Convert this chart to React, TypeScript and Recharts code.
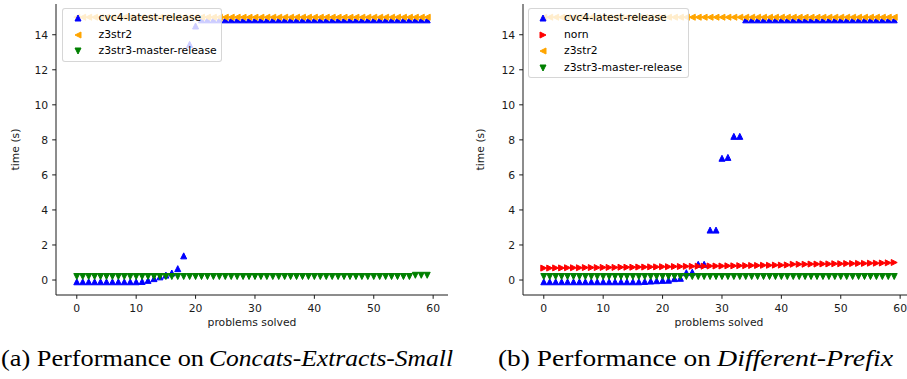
import React from "react";
import { ScatterChart, Scatter, XAxis, YAxis } from "recharts";

// problems solved (x position of every point)
const solved = [
  0, 1, 2, 3, 4, 5, 6, 7, 8, 9, 10, 11, 12, 13, 14, 15, 16, 17, 18, 19,
  20, 21, 22, 23, 24, 25, 26, 27, 28, 29, 30, 31, 32, 33, 34, 35, 36, 37, 38, 39,
  40, 41, 42, 43, 44, 45, 46, 47, 48, 49, 50, 51, 52, 53, 54, 55, 56, 57, 58, 59,
];

// (a) Concats-Extracts-Small, time in seconds
const cvc4Small = [
  -0.1, -0.1, -0.1, -0.1, -0.1, -0.1, -0.1, -0.1, -0.1, -0.1, -0.1, -0.08, -0.02, 0.08, 0.18, 0.28, 0.4, 0.65, 1.38, 13.45,
  14.5, 14.85, 14.85, 14.85, 14.85, 14.85, 14.85, 14.85, 14.85, 14.85, 14.85, 14.85, 14.85, 14.85, 14.85, 14.85, 14.85, 14.85, 14.85, 14.85,
  14.85, 14.85, 14.85, 14.85, 14.85, 14.85, 14.85, 14.85, 14.85, 14.85, 14.85, 14.85, 14.85, 14.85, 14.85, 14.85, 14.85, 14.85, 14.85, 14.85,
];
const z3str2Small = [
  15, 15, 15, 15, 15, 15, 15, 15, 15, 15, 15, 15, 15, 15, 15, 15, 15, 15, 15, 15,
  15, 15, 15, 15, 15, 15, 15, 15, 15, 15, 15, 15, 15, 15, 15, 15, 15, 15, 15, 15,
  15, 15, 15, 15, 15, 15, 15, 15, 15, 15, 15, 15, 15, 15, 15, 15, 15, 15, 15, 15,
];
const z3str3Small = [
  0.2, 0.2, 0.2, 0.2, 0.2, 0.2, 0.2, 0.2, 0.2, 0.2, 0.2, 0.2, 0.2, 0.2, 0.2, 0.2, 0.2, 0.2, 0.2, 0.2,
  0.2, 0.2, 0.2, 0.2, 0.2, 0.2, 0.2, 0.2, 0.2, 0.2, 0.2, 0.2, 0.2, 0.2, 0.2, 0.2, 0.2, 0.2, 0.2, 0.2,
  0.2, 0.2, 0.2, 0.2, 0.2, 0.2, 0.2, 0.2, 0.2, 0.2, 0.2, 0.2, 0.2, 0.2, 0.2, 0.2, 0.2, 0.27, 0.27, 0.27,
];

// (b) Different-Prefix, time in seconds
const cvc4Prefix = [
  -0.1, -0.1, -0.1, -0.1, -0.1, -0.1, -0.1, -0.1, -0.1, -0.1, -0.1, -0.1, -0.1, -0.1, -0.1, -0.1, -0.1, -0.08, -0.06, -0.04,
  -0.02, -0.01, 0.08, 0.1, 0.42, 0.45, 0.9, 0.9, 2.85, 2.85, 6.95, 7.0, 8.2, 8.2, 14.85, 14.85, 14.85, 14.85, 14.85, 14.85,
  14.85, 14.85, 14.85, 14.85, 14.85, 14.85, 14.85, 14.85, 14.85, 14.85, 14.85, 14.85, 14.85, 14.85, 14.85, 14.85, 14.85, 14.85, 14.85, 14.85,
];
const nornPrefix = [
  0.68, 0.68, 0.69, 0.69, 0.7, 0.7, 0.7, 0.71, 0.71, 0.71, 0.72, 0.72, 0.72, 0.73, 0.73, 0.73, 0.74, 0.74, 0.75, 0.75,
  0.76, 0.76, 0.77, 0.77, 0.78, 0.78, 0.79, 0.79, 0.8, 0.8, 0.8, 0.81, 0.81, 0.82, 0.82, 0.83, 0.83, 0.84, 0.84, 0.85,
  0.85, 0.86, 0.9, 0.9, 0.9, 0.91, 0.91, 0.92, 0.92, 0.93, 0.93, 0.94, 0.94, 0.95, 0.95, 0.96, 0.96, 0.97, 0.98, 1.0,
];
const z3str2Prefix = [
  15, 15, 15, 15, 15, 15, 15, 15, 15, 15, 15, 15, 15, 15, 15, 15, 15, 15, 15, 15,
  15, 15, 15, 15, 15, 15, 15, 15, 15, 15, 15, 15, 15, 15, 15, 15, 15, 15, 15, 15,
  15, 15, 15, 15, 15, 15, 15, 15, 15, 15, 15, 15, 15, 15, 15, 15, 15, 15, 15, 15,
];
const z3str3Prefix = [
  0.2, 0.2, 0.2, 0.2, 0.2, 0.2, 0.2, 0.2, 0.2, 0.2, 0.2, 0.2, 0.2, 0.2, 0.2, 0.2, 0.2, 0.2, 0.2, 0.2,
  0.2, 0.2, 0.2, 0.2, 0.2, 0.2, 0.2, 0.2, 0.2, 0.2, 0.2, 0.2, 0.2, 0.2, 0.2, 0.2, 0.2, 0.2, 0.2, 0.2,
  0.2, 0.2, 0.2, 0.2, 0.2, 0.2, 0.2, 0.2, 0.2, 0.2, 0.2, 0.2, 0.2, 0.2, 0.2, 0.2, 0.2, 0.2, 0.2, 0.2,
];

const xTicks = [0, 10, 20, 30, 40, 50, 60];
const yTicks = [0, 2, 4, 6, 8, 10, 12, 14];

type Dir = "up" | "down" | "left" | "right";

interface Series {
  name: string;
  color: string;
  dir: Dir;
  values: number[];
}

const smallSeries: Series[] = [
  { name: "cvc4-latest-release", color: "#0000ff", dir: "up", values: cvc4Small },
  { name: "z3str2", color: "#ffa500", dir: "left", values: z3str2Small },
  { name: "z3str3-master-release", color: "#008000", dir: "down", values: z3str3Small },
];

const prefixSeries: Series[] = [
  { name: "cvc4-latest-release", color: "#0000ff", dir: "up", values: cvc4Prefix },
  { name: "norn", color: "#ff0000", dir: "right", values: nornPrefix },
  { name: "z3str2", color: "#ffa500", dir: "left", values: z3str2Prefix },
  { name: "z3str3-master-release", color: "#008000", dir: "down", values: z3str3Prefix },
];

const X_DOMAIN: [number, number] = [-3.5, 62.5];
const Y_DOMAIN: [number, number] = [-0.855, 15.755];
const INK = "#1a1a1a";
const FONT = 10.8;

function triPoints(cx: number, cy: number, dir: Dir, r = 3) {
  switch (dir) {
    case "up":
      return `${cx},${cy - r} ${cx - r},${cy + r} ${cx + r},${cy + r}`;
    case "down":
      return `${cx},${cy + r} ${cx - r},${cy - r} ${cx + r},${cy - r}`;
    case "left":
      return `${cx - r},${cy} ${cx + r},${cy - r} ${cx + r},${cy + r}`;
    default:
      return `${cx + r},${cy} ${cx - r},${cy - r} ${cx - r},${cy + r}`;
  }
}

const markerShape = (dir: Dir, color: string) => (props: any) => {
  if (props.cx == null || props.cy == null) return <g />;
  return (
    <polygon
      points={triPoints(props.cx, props.cy, dir)}
      fill={color}
      stroke={color}
      strokeWidth={1}
      strokeLinejoin="miter"
    />
  );
};

function Legend({ series, left, width, markerX, textX }: {
  series: Series[]; left: number; width: number; markerX: number; textX: number;
}) {
  const pitch = 16.6;
  return (
    <div
      style={{
        position: "absolute",
        left,
        top: 8,
        width,
        height: 6 + series.length * pitch - 2,
        background: "rgba(255,255,255,0.8)",
        border: "1px solid rgba(204,204,204,0.8)",
        borderRadius: 3,
        boxSizing: "border-box",
        fontSize: FONT,
        color: "#000",
      }}
    >
      {series.map((s, i) => {
        const cy = 9 + i * pitch;
        return (
          <div key={s.name} style={{ position: "absolute", left: 0, top: cy - 8, height: 16, width: "100%" }}>
            <svg width={14} height={16} style={{ position: "absolute", left: markerX - 7, top: 0 }}>
              <polygon points={triPoints(7, 8, s.dir)} fill={s.color} stroke={s.color} strokeWidth={1} />
            </svg>
            <span style={{ position: "absolute", left: textX, top: 0, lineHeight: "16px", whiteSpace: "nowrap" }}>
              {s.name}
            </span>
          </div>
        );
      })}
    </div>
  );
}

function Panel({ series, left, yLabelX }: { series: Series[]; left: number; yLabelX: number }) {
  return (
    <div style={{ position: "absolute", left, top: 0 }}>
      <ScatterChart width={455} height={340} margin={{ top: 4, right: 7, bottom: 0, left: 0 }}>
        <XAxis
          type="number"
          dataKey="x"
          domain={X_DOMAIN}
          ticks={xTicks}
          allowDataOverflow
          height={45}
          tickSize={3.8}
          tickMargin={6}
          stroke={INK}
          tick={{ fontSize: FONT, fill: INK }}
          label={{ value: "problems solved", position: "insideBottom", offset: 14, fontSize: FONT, fill: INK }}
        />
        <XAxis xAxisId="top" orientation="top" type="number" domain={X_DOMAIN} height={0} tick={false} tickLine={false} stroke={INK} />
        <YAxis
          type="number"
          dataKey="y"
          domain={Y_DOMAIN}
          ticks={yTicks}
          allowDataOverflow
          width={56}
          tickSize={3.8}
          tickMargin={4}
          stroke={INK}
          tick={{ fontSize: FONT, fill: INK }}
          label={(p: any) => {
            const vb = p.viewBox || { x: 0, y: 4, height: 291 };
            const cx = vb.x + yLabelX;
            const cy = vb.y + vb.height / 2;
            return (
              <text
                x={cx}
                y={cy}
                transform={`rotate(-90, ${cx}, ${cy})`}
                textAnchor="middle"
                dominantBaseline="central"
                fontSize={FONT}
                fill={INK}
              >
                time (s)
              </text>
            );
          }}
        />
        <YAxis yAxisId="right" orientation="right" type="number" domain={Y_DOMAIN} width={0} tick={false} tickLine={false} stroke={INK} />
        {series.map((s) => (
          <Scatter
            key={s.name}
            name={s.name}
            data={solved.map((x, i) => ({ x, y: s.values[i] }))}
            fill={s.color}
            shape={markerShape(s.dir, s.color)}
            isAnimationActive={false}
          />
        ))}
      </ScatterChart>
    </div>
  );
}

export default function App() {
  return (
    <div
      style={{
        position: "absolute",
        left: 0,
        top: 0,
        width: 907,
        height: 379,
        overflow: "hidden",
        background: "#fff",
        fontFamily: "'DejaVu Sans', sans-serif",
      }}
    >
      <Panel series={smallSeries} left={0} yLabelX={15} />
      <Panel series={prefixSeries} left={466.7} yLabelX={13.3} />
      <Legend series={smallSeries} left={62} width={160} markerX={15} textX={35.5} />
      <Legend series={prefixSeries} left={528} width={161} markerX={14} textX={35} />
      <svg
        width={907}
        height={44}
        style={{ position: "absolute", left: 0, top: 335 }}
        fontFamily="'Liberation Serif', serif"
        fontSize={23}
        fill="#000"
      >
        <text x={1} y={31} textLength={203} lengthAdjust="spacingAndGlyphs">(a) Performance on</text>
        <text x={209} y={31} textLength={244} lengthAdjust="spacingAndGlyphs" fontStyle="italic">Concats-Extracts-Small</text>
        <text x={498} y={31} textLength={213} lengthAdjust="spacingAndGlyphs">(b) Performance on</text>
        <text x={717} y={31} textLength={176} lengthAdjust="spacingAndGlyphs" fontStyle="italic">Different-Prefix</text>
      </svg>
    </div>
  );
}
